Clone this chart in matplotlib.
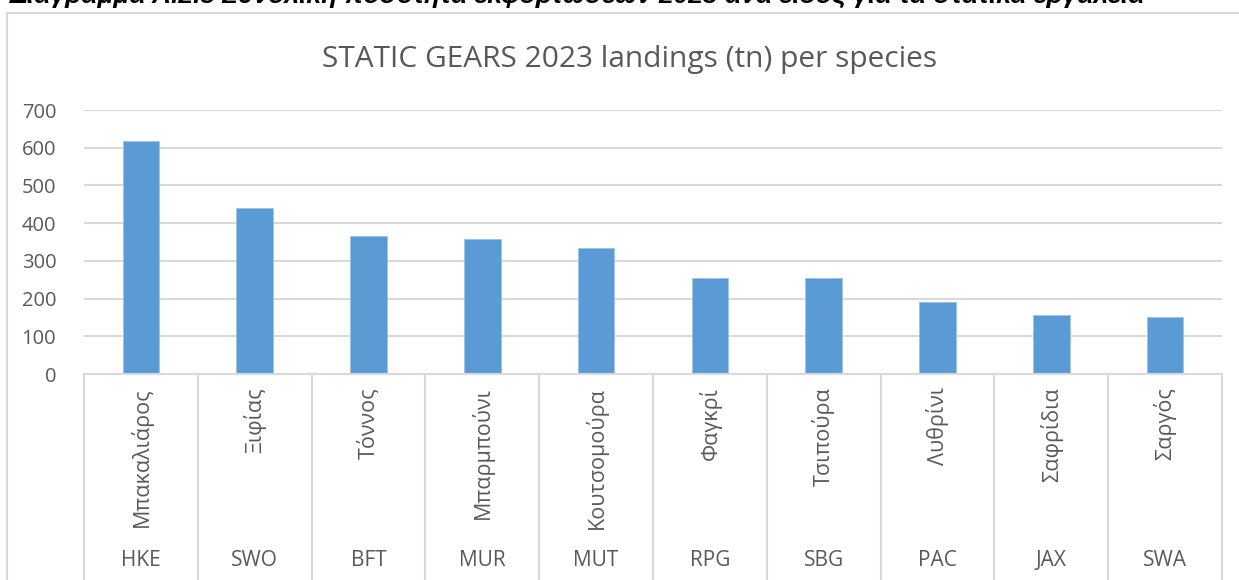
import matplotlib
matplotlib.use("Agg")
import matplotlib.pyplot as plt
from matplotlib.patches import Rectangle
import matplotlib.transforms as mtransforms

# data
codes = ["HKE", "SWO", "BFT", "MUR", "MUT", "RPG", "SBG", "PAC", "JAX", "SWA"]
names = ["Μπακαλιάρος", "Ξιφίας", "Τόννος", "Μπαρμπούνι", "Κουτσομούρα",
         "Φαγκρί", "Τσιπούρα", "Λυθρίνι", "Σαφρίδια", "Σαργός"]
landings = [618, 440, 365, 358, 335, 255, 255, 190, 156, 152]
yticks = [0, 100, 200, 300, 400, 500, 600, 700]

title = "STATIC GEARS 2023 landings (tn) per species"
caption = "Διάγραμμα Α.2.3 Συνολική ποσότητα εκφορτώσεων 2023 ανά είδος για τα στατικά εργαλεία"

plt.rcParams["font.family"] = ["Open Sans", "DejaVu Sans"]
W, H = 1239, 580
fig = plt.figure(figsize=(W / 100, H / 100), dpi=100)

grid_col = "#d9d9d9"
text_col = "#595959"

# outer chart frame (runs off the right and bottom edge)
fig.patches.append(Rectangle((7 / W, -0.1), 1.2, (H - 13) / H + 0.1,
                             transform=fig.transFigure, fill=False,
                             edgecolor=grid_col, linewidth=1.5))

# caption cut at the top of the picture
fig.text(10 / W, 1 - 3 / H, caption, fontsize=19, fontweight="bold",
         fontstyle="italic", family=["Liberation Sans", "DejaVu Sans"],
         va="baseline", ha="left", color="black")

ax = fig.add_axes([84 / W, (H - 374) / H, (1222 - 84) / W, (374 - 110) / H])
x = list(range(len(codes)))
ax.bar(x, landings, width=0.32, color="#5b9bd5", edgecolor="#9dc3e6",
       linewidth=0.6, zorder=3)
ax.set_xlim(-0.5, len(codes) - 0.5)
ax.set_ylim(0, 700)
ax.set_yticks(yticks)
ax.set_yticklabels([str(v) for v in yticks], fontsize=14.5, color=text_col)
ax.tick_params(axis="y", length=0, pad=20)
ax.set_xticks([])
for s in ax.spines.values():
    s.set_visible(False)
ax.grid(axis="y", color=grid_col, linewidth=1.5, zorder=0)

fig.text(630 / W, 1 - 59 / H, title, fontsize=21.5, color=text_col,
         ha="center", va="center")

# category boxes below the axis
trans = mtransforms.blended_transform_factory(ax.transData, ax.transAxes)
bottom = -(H - 374) / (374 - 110) - 0.05
ax.plot([-0.5, len(codes) - 0.5], [0, 0], transform=trans, color=grid_col,
        linewidth=1.5, clip_on=False, zorder=4)
for i in range(len(codes) + 1):
    ax.plot([i - 0.5, i - 0.5], [0, bottom], transform=trans, color=grid_col,
            linewidth=1.5, clip_on=False)
for i, (c, n) in enumerate(zip(codes, names)):
    ax.text(i, -0.05, n, transform=trans, rotation=90, ha="center", va="top",
            fontsize=15.5, color=text_col)
    ax.text(i, -(560 - 374) / (374 - 110), c, transform=trans, ha="center",
            va="center", fontsize=15, color=text_col)

fig.savefig("out.png", dpi=100)
